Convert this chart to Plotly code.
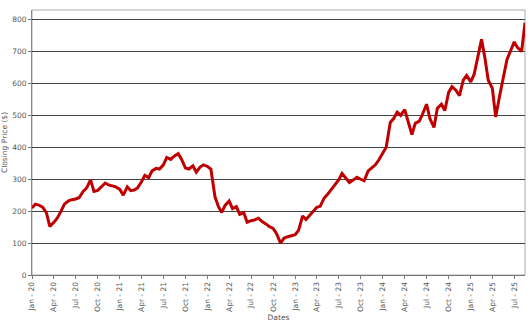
import plotly.graph_objects as go
import pandas as pd

# Semi-monthly observation dates (1st and 15th of each month)
dates = []
for y in range(2020, 2026):
    for m in range(1, 13):
        if y == 2025 and m > 8:
            break
        dates.append(f"{y}-{m:02d}-01")
        dates.append(f"{y}-{m:02d}-15")

prices_2020 = [210, 222, 218, 212, 195, 152, 165, 178, 200, 222, 232, 236,
               238, 242, 262, 272, 298, 262, 265, 276, 288, 282, 278, 276]
prices_2021 = [268, 250, 276, 264, 266, 272, 292, 312, 305, 326, 334, 332,
               345, 368, 362, 372, 380, 362, 335, 332, 342, 322, 338, 345]
prices_2022 = [340, 332, 245, 215, 196, 218, 232, 208, 214, 190, 195, 165,
               170, 172, 178, 168, 160, 152, 146, 130, 100, 115, 120, 122]
prices_2023 = [126, 140, 185, 174, 186, 198, 212, 215, 240, 252, 270, 285,
               298, 318, 304, 290, 298, 306, 300, 295, 326, 334, 345, 360]
prices_2024 = [380, 400, 478, 490, 510, 500, 518, 482, 440, 475, 482, 505,
               535, 490, 462, 522, 535, 515, 572, 590, 578, 562, 610, 625]
prices_2025 = [605, 628, 690, 738, 680, 610, 585, 495, 560, 610, 675, 700,
               730, 712, 700, 790]

prices = prices_2020 + prices_2021 + prices_2022 + prices_2023 + prices_2024 + prices_2025

y_ticks = [0, 100, 200, 300, 400, 500, 600, 700, 800]

fig = go.Figure()
fig.add_trace(go.Scatter(
    x=pd.to_datetime(dates), y=prices, mode="lines",
    line=dict(color="#c00000", width=3),
    showlegend=False,
))

font = dict(family="DejaVu Sans", size=7.5, color="#555555")
fig.update_layout(
    width=532, height=326,
    margin=dict(l=32, r=7, t=10, b=51),
    paper_bgcolor="white", plot_bgcolor="white",
    font=font,
    xaxis=dict(
        range=["2020-01-01", "2025-08-15"],
        tickmode="linear", tick0="2020-01-01", dtick="M3",
        tickformat="%b - %y", tickangle=-90,
        ticks="outside", ticklen=3, tickcolor="#777777",
        showgrid=False, showline=True, linecolor="#777777", linewidth=1,
        mirror=False, zeroline=False, automargin=False,
        title=dict(text="Dates", font=dict(family="DejaVu Sans", size=7.5, color="#555555"), standoff=3),
        tickfont=font,
    ),
    yaxis=dict(
        range=[0, 830], tickvals=y_ticks,
        ticks="outside", ticklen=3, tickcolor="#777777",
        showgrid=True, gridcolor="#444444", gridwidth=1,
        showline=True, linecolor="#888888", linewidth=1,
        zeroline=False, automargin=False,
        title=dict(text="Closing Price ($)", font=dict(family="DejaVu Sans", size=7.5, color="#555555"), standoff=3),
        tickfont=font,
    ),
    shapes=[
        dict(type="rect", xref="paper", yref="paper", x0=0, x1=1, y0=0, y1=1,
             line=dict(color="#aaaaaa", width=1), fillcolor="rgba(0,0,0,0)", layer="below"),
    ],
)

fig.write_html("out.html")
